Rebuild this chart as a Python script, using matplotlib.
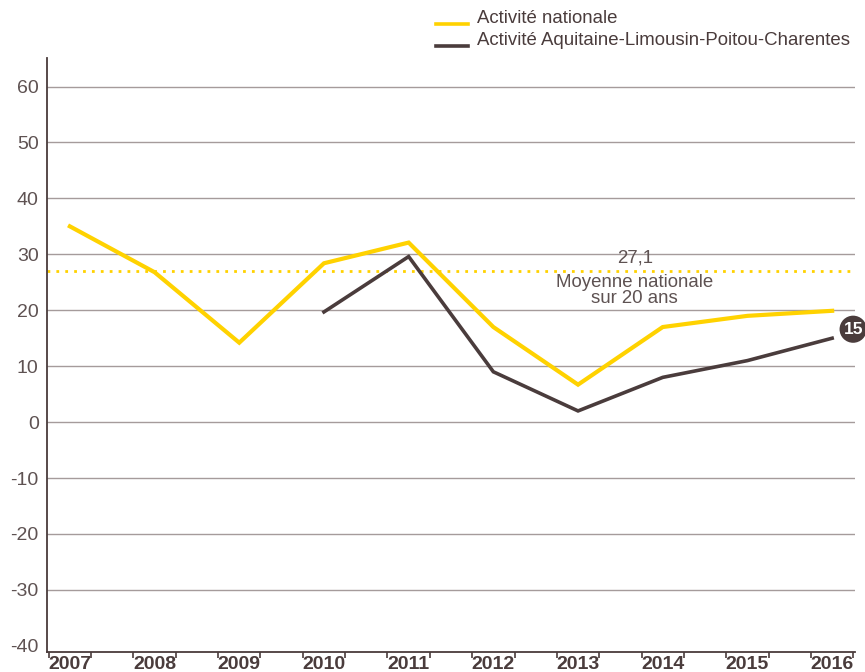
import matplotlib
matplotlib.use("Agg")
import matplotlib.pyplot as plt
from matplotlib.lines import Line2D

plt.rcParams['font.family'] = ['Liberation Sans', 'DejaVu Sans']

years = [2007, 2008, 2009, 2010, 2011, 2012, 2013, 2014, 2015, 2016]
national = [35, 26.8, 14.2, 28.4, 32.1, 17, 6.7, 17, 19, 19.9]
region_years = [2010, 2011, 2012, 2013, 2014, 2015, 2016]
region = [19.7, 29.6, 9, 2, 8, 11, 15]
mean_national = 27.1
yticks = [-40, -30, -20, -10, 0, 10, 20, 30, 40, 50, 60]
legend_labels = ["Activité nationale", "Activité Aquitaine-Limousin-Poitou-Charentes"]
mean_value_label = "27,1"
mean_label = "Moyenne nationale\nsur 20 ans"
badge_label = "15"

YELLOW = "#FFD200"
DARK = "#4A3C3C"
GRID = "#A59B9B"
TEXT = "#5E5252"

fig = plt.figure(figsize=(8.65, 6.72), dpi=100)
ax = fig.add_axes([47/865, 20/672, (855-47)/865, (652-58)/672])

ax.set_xlim(2006.73, 2016.27)
ax.set_ylim(-41.1, 65.1)

for v in yticks:
    if v > yticks[0]:
        ax.axhline(v, color=GRID, lw=1.0, zorder=1)

ax.axhline(mean_national, color=YELLOW, lw=2.0, ls=(0, (1, 2.2)), zorder=2)

ax.plot(years, national, color=YELLOW, lw=3.0, solid_joinstyle='miter', zorder=3)
ax.plot(region_years, region, color=DARK, lw=2.6, solid_joinstyle='miter', zorder=4)

ax.annotate(mean_value_label, xy=(2013.67, mean_national), xytext=(0, 4),
            textcoords='offset pixels', ha='center', va='bottom',
            fontsize=13.4, color=TEXT, zorder=5)
ax.annotate(mean_label, xy=(2013.67, mean_national), xytext=(0, -3),
            textcoords='offset pixels', ha='center', va='top',
            fontsize=13.4, color=TEXT, linespacing=0.95, zorder=5)

ax.annotate(badge_label, xy=(region_years[-1], region[-1]), xytext=(21, 9),
            textcoords='offset pixels', ha='center', va='center',
            fontsize=12.5, fontweight='bold', color='white',
            bbox=dict(boxstyle='circle,pad=0.22', fc=DARK, ec='none'),
            annotation_clip=False, zorder=6)

for s in ['top', 'right']:
    ax.spines[s].set_visible(False)
for s in ['left', 'bottom']:
    ax.spines[s].set_color(DARK)
    ax.spines[s].set_linewidth(1.3)

ax.set_yticks(yticks)
ax.set_yticklabels([str(v) for v in yticks], fontsize=14, color=TEXT)
ax.tick_params(axis='y', length=0, pad=6)

ax.set_xticks(years)
ax.set_xticklabels([str(y) for y in years], fontsize=14, fontweight='bold', color=DARK)
ax.tick_params(axis='x', which='major', length=0, pad=3)
minor = []
for y in years:
    minor += [y - 0.25, y + 0.25]
ax.set_xticks(minor, minor=True)
ax.tick_params(axis='x', which='minor', length=4, width=1.2, color=DARK, direction='out')

# legend
colors = [YELLOW, DARK]
ys = [672 - 24, 672 - 46]
for lab, c, yy in zip(legend_labels, colors, ys):
    fig.add_artist(Line2D([436/865, 468/865], [yy/672, yy/672], color=c, lw=2.6,
                          transform=fig.transFigure))
    fig.text(477/865, (yy + 1)/672, lab, fontsize=13.4, color=DARK, ha='left', va='baseline')

fig.savefig("out.png", dpi=100)
